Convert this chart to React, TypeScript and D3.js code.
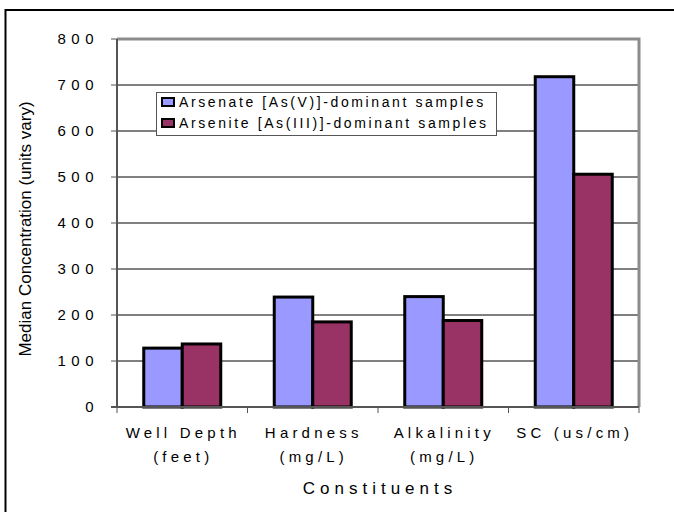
import React from "react";
import * as d3 from "d3";

const categories = ["Well Depth|(feet)", "Hardness|(mg/L)", "Alkalinity|(mg/L)", "SC (us/cm)"];
const seriesNames = ["Arsenate [As(V)]-dominant samples", "Arsenite [As(III)]-dominant samples"];
const arsenate = [128, 239, 240, 718];
const arsenite = [137, 185, 188, 506];
const yTicks = [0, 100, 200, 300, 400, 500, 600, 700, 800];
const colors = ["#9999FF", "#993366"];

export default function App() {
  const W = 674, H = 512;
  const left = 117, right = 639, top = 39, bottom = 407;
  const y = d3.scaleLinear().domain([0, 800]).range([bottom, top]);
  const x0 = d3.scaleBand<string>().domain(categories).range([left, right]).paddingInner(0).paddingOuter(0);
  const bw = x0.bandwidth();
  const gap = (bw - 77) / 2;
  const x1 = d3.scaleBand<number>().domain([0, 1]).range([gap, bw - gap]);
  const series = [arsenate, arsenite];
  const font = "Arial, 'Liberation Sans', sans-serif";
  const boundaries = d3.range(categories.length + 1).map((i) => left + i * bw);

  return (
    <svg width={W} height={H} style={{ position: "absolute", left: 0, top: 0 }} fontFamily={font}>
      <rect x={0} y={0} width={W} height={H} fill="white" />
      <rect x={5.5} y={10} width={W + 20} height={H + 20} fill="none" stroke="black" strokeWidth={2} />
      {yTicks.slice(1).map((t) => (
        <line key={t} x1={left} x2={right} y1={y(t)} y2={y(t)} stroke="black" strokeWidth={1} />
      ))}
      <path d={`M${left},${top} H${right} V${bottom}`} fill="none" stroke="#8c8c8c" strokeWidth={3} />
      {categories.map((c, ci) =>
        series.map((s, si) => (
          <rect
            key={c + si}
            x={(x0(c) as number) + (x1(si) as number)}
            y={y(s[ci])}
            width={x1.bandwidth()}
            height={bottom - y(s[ci])}
            fill={colors[si]}
            stroke="black"
            strokeWidth={3}
          />
        ))
      )}
      <line x1={left} x2={left} y1={top} y2={bottom} stroke="#555" strokeWidth={2} />
      <line x1={left - 6} x2={right} y1={bottom} y2={bottom} stroke="#555" strokeWidth={2} />
      {yTicks.map((t) => (
        <g key={t}>
          <line x1={left - 6} x2={left} y1={y(t)} y2={y(t)} stroke="#555" strokeWidth={1} />
          <text x={99} y={y(t)} dy="0.35em" textAnchor="end" fontSize={15} letterSpacing={5.5}>
            {t}
          </text>
        </g>
      ))}
      {boundaries.map((b, i) => (
        <line key={i} x1={b} x2={b} y1={bottom} y2={bottom + 6} stroke="#555" strokeWidth={1} />
      ))}
      {categories.map((c) => {
        const cx = (x0(c) as number) + bw / 2;
        const lines = c.split("|");
        return (
          <text key={c} textAnchor="middle" fontSize={15} letterSpacing={4.2}>
            {lines.map((l, i) => (
              <tspan key={i} x={cx + 1} y={438 + i * 24}>
                {l}
              </tspan>
            ))}
          </text>
        );
      })}
      <text x={(left + right) / 2 + 2} y={494} textAnchor="middle" fontSize={17} letterSpacing={5}>
        Constituents
      </text>
      <text
        transform={`translate(31,${(top + bottom) / 2 + 6}) rotate(-90)`}
        textAnchor="middle"
        fontSize={17}
      >
        Median Concentration (units vary)
      </text>
      <rect x={156.5} y={92.5} width={340} height={43} fill="white" stroke="#555" strokeWidth={1} />
      {seriesNames.map((n, i) => (
        <g key={n}>
          <rect x={162} y={98 + i * 21} width={12} height={8} fill={colors[i]} stroke="black" strokeWidth={2} />
          <text x={179} y={102 + i * 21} dy="0.35em" fontSize={14} letterSpacing={2.6}>
            {n}
          </text>
        </g>
      ))}
    </svg>
  );
}
